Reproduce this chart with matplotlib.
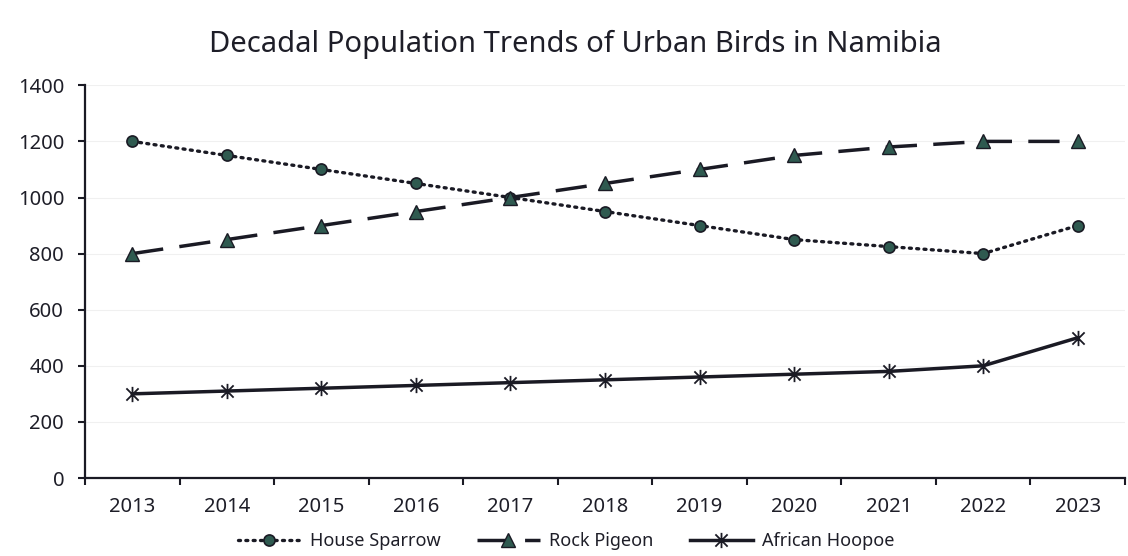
import matplotlib
matplotlib.use("Agg")
import matplotlib.pyplot as plt
from matplotlib.path import Path
import numpy as np

years = ["2013", "2014", "2015", "2016", "2017", "2018", "2019", "2020", "2021", "2022", "2023"]
house_sparrow = [1200, 1150, 1100, 1050, 1000, 950, 900, 850, 825, 800, 900]
rock_pigeon = [800, 850, 900, 950, 1000, 1050, 1100, 1150, 1180, 1200, 1200]
african_hoopoe = [300, 310, 320, 330, 340, 350, 360, 370, 380, 400, 500]
title = "Decadal Population Trends of Urban Birds in Namibia"

plt.rcParams['font.family'] = ['Noto Sans', 'DejaVu Sans']

fig = plt.figure(figsize=(11.28, 5.56), dpi=100)
ax = fig.add_axes([85/1128, 1-478/556, (1125-85)/1128, (478-85.3)/556])

x = np.arange(len(years))
line_col = "#1a1a24"
mk_col = "#2f5a50"
txt_col = "#1e1e28"

star = Path([(0, -1), (0, 1), (-0.8, -0.8), (0.8, 0.8), (-0.8, 0.8), (0.8, -0.8)],
            [Path.MOVETO, Path.LINETO, Path.MOVETO, Path.LINETO, Path.MOVETO, Path.LINETO])

ax.plot(x, house_sparrow, color=line_col, lw=2.4, linestyle=(0, (0.6, 1.6)),
        dash_capstyle='round', marker='o', markersize=8, markerfacecolor=mk_col,
        markeredgecolor=line_col, markeredgewidth=1.2, label="House Sparrow", zorder=3)
ax.plot(x, rock_pigeon, color=line_col, lw=2.5, linestyle=(0, (9, 4.7)),
        marker='^', markersize=10.5, markerfacecolor=mk_col,
        markeredgecolor=line_col, markeredgewidth=1.0, label="Rock Pigeon", zorder=3)
ax.plot(x, african_hoopoe, color=line_col, lw=2.5, linestyle='-',
        marker=star, markersize=11, markerfacecolor='none',
        markeredgecolor=line_col, markeredgewidth=1.3, label="African Hoopoe", zorder=3)

ax.set_xlim(-0.5, len(years) - 0.5)
ax.set_ylim(0, 1400)
ax.set_yticks(np.arange(0, 1401, 200))
ax.set_xticks(x)
ax.set_xticklabels(years)
ax.set_xticks(np.arange(-0.5, len(years), 1.0), minor=True)
ax.tick_params(axis='x', which='major', length=0, pad=14, labelsize=14.5, colors=txt_col)
ax.tick_params(axis='x', which='minor', length=5, width=1.5, direction='out', color=line_col)
ax.tick_params(axis='y', length=5, width=1.5, direction='out', color=line_col, labelsize=14.5,
               labelcolor=txt_col, pad=10)

ax.grid(axis='y', color='#f0f0f0', lw=0.8, zorder=0)
for s in ['top', 'right']:
    ax.spines[s].set_visible(False)
for s in ['left', 'bottom']:
    ax.spines[s].set_color(line_col)
    ax.spines[s].set_linewidth(1.6)

fig.text(0.51, 1-44/556, title, ha='center', va='center', fontsize=21, color=txt_col)

leg = fig.legend(loc='center', bbox_to_anchor=(566/1128, 1-541/556), ncol=3, frameon=False,
                 fontsize=13, handlelength=3.5, columnspacing=2.0, handletextpad=0.5)
for t in leg.get_texts():
    t.set_color(txt_col)

fig.savefig("out.png", dpi=100)
